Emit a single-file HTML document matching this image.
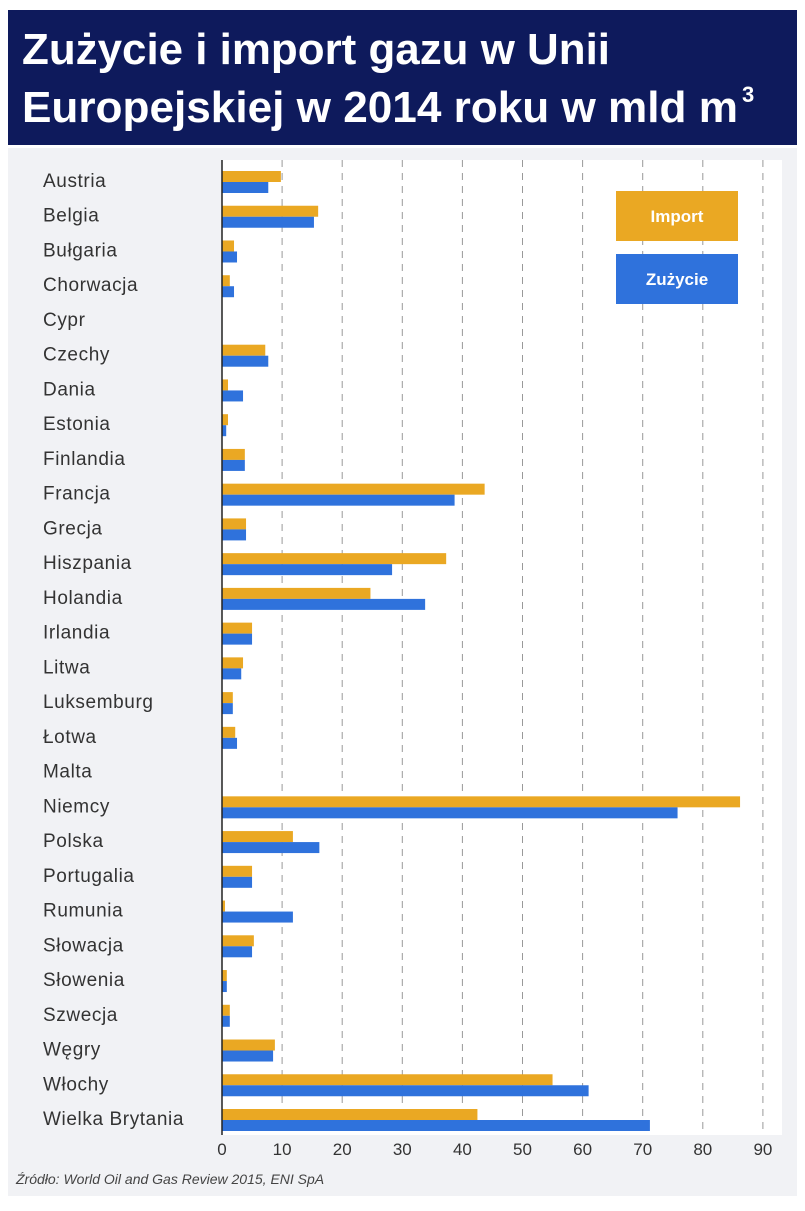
<!DOCTYPE html>
<html><head><meta charset="utf-8"><style>
body{margin:0;width:805px;height:1206px;background:#fff;font-family:"Liberation Sans",sans-serif;overflow:hidden}
</style></head><body>
<svg id="chart" width="805" height="1206" xmlns="http://www.w3.org/2000/svg">
<rect x="0" y="0" width="805" height="1206" fill="#ffffff"/>
<rect x="8" y="148" width="789" height="1048" fill="#f1f2f5"/>
<rect x="8" y="10" width="789" height="135" fill="#0e1a5c"/>
<text x="22" y="64" font-size="44" fill="#fff" font-weight="bold" textLength="588" lengthAdjust="spacingAndGlyphs">Zużycie i import gazu w Unii</text>
<text x="22" y="122" font-size="44" fill="#fff" font-weight="bold" textLength="716" lengthAdjust="spacingAndGlyphs">Europejskiej w 2014 roku w mld m</text>
<text x="742" y="102" font-size="22" fill="#fff" font-weight="bold">3</text>
<rect x="222" y="160" width="560" height="975" fill="#ffffff"/>
<g id="grid"></g><g id="bars"></g><g id="labels"></g><g id="ticks"></g>
<line x1="222" y1="160" x2="222" y2="1135" stroke="#222" stroke-width="1.5"/>
<rect x="616" y="191" width="122" height="50" fill="#eaa823"/>
<text x="677" y="222" font-size="17" fill="#fff" text-anchor="middle" font-weight="bold">Import</text>
<rect x="616" y="254" width="122" height="50" fill="#2f72dc"/>
<text x="677" y="285" font-size="17" fill="#fff" text-anchor="middle" font-weight="bold">Zużycie</text>
<text x="16" y="1184" font-size="14" font-style="italic" fill="#444">Źródło: World Oil and Gas Review 2015, ENI SpA</text>
</svg>
<script>
const countries=["Austria","Belgia","Bułgaria","Chorwacja","Cypr","Czechy","Dania","Estonia","Finlandia","Francja","Grecja","Hiszpania","Holandia","Irlandia","Litwa","Luksemburg","Łotwa","Malta","Niemcy","Polska","Portugalia","Rumunia","Słowacja","Słowenia","Szwecja","Węgry","Włochy","Wielka Brytania"];
const importVals=[9.8,16,2,1.3,0,7.2,1,1,3.8,43.7,4,37.3,24.7,5,3.5,1.8,2.2,0,86.2,11.8,5,0.5,5.3,0.8,1.3,8.8,55,42.5];
const consumptionVals=[7.7,15.3,2.5,2,0,7.7,3.5,0.7,3.8,38.7,4,28.3,33.8,5,3.2,1.8,2.5,0,75.8,16.2,5,11.8,5,0.8,1.3,8.5,61,71.2];
const ticks=[0,10,20,30,40,50,60,70,80,90];
const NS="http://www.w3.org/2000/svg";
const x=v=>222+v*6.01;
const y=i=>181+i*(1119-181)/(countries.length-1);
function mk(tag,attrs,parent){const e=document.createElementNS(NS,tag);for(const k in attrs)e.setAttribute(k,attrs[k]);document.getElementById(parent).appendChild(e);return e;}
ticks.forEach(t=>{
  if(t>0){const g=mk('line',{x1:x(t),x2:x(t),y1:160,y2:1135,stroke:'#999','stroke-dasharray':'7,6','stroke-width':1},'grid');
  
  }
  const l=mk('text',{x:x(t),y:1155,'font-size':17,fill:'#333','text-anchor':'middle'},'ticks');l.textContent=t;
  
  
});
countries.forEach((c,i)=>{
  const cy=y(i);
  const t=mk('text',{x:43,y:cy+6,'font-size':19,fill:'#333','letter-spacing':'0.6'},'labels');t.textContent=c;
  
  
  const a=mk('rect',{x:222,y:cy-10,width:x(importVals[i])-222,height:11,fill:'#eaa823'},'bars');
  
  
  const b=mk('rect',{x:222,y:cy+1,width:x(consumptionVals[i])-222,height:11,fill:'#2f72dc'},'bars');
  
  
});
</script>
</body></html>
